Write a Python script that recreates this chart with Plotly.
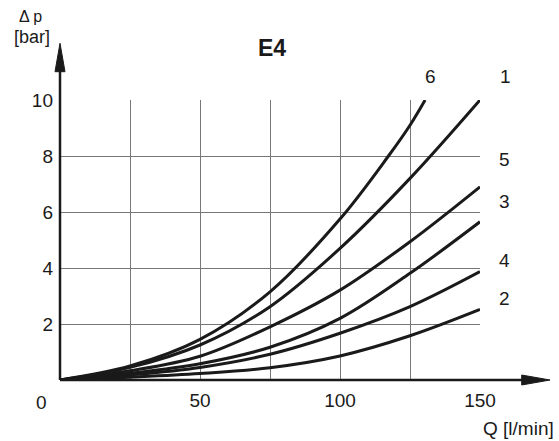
import plotly.graph_objects as go

# ---- data ----
q_common = [0, 25, 50, 75, 100, 125, 150]
q_curve6 = [0, 25, 50, 75, 100, 117.3, 125, 130.4]

dp_curve6 = [0, 0.50, 1.45, 3.15, 5.75, 8.0, 9.1, 10.0]
dp_curve1 = [0, 0.45, 1.25, 2.62, 4.70, 7.20, 10.0]
dp_curve5 = [0, 0.33, 0.85, 1.90, 3.21, 4.94, 6.90]
dp_curve3 = [0, 0.24, 0.58, 1.17, 2.20, 3.81, 5.65]
dp_curve4 = [0, 0.18, 0.45, 0.92, 1.67, 2.62, 3.87]
dp_curve2 = [0, 0.10, 0.23, 0.44, 0.86, 1.58, 2.52]

x_tick_vals = [25, 50, 75, 100, 125, 150]
x_tick_text = ["", "50", "", "100", "", "150"]
y_tick_vals = [0, 2, 4, 6, 8, 10]
y_tick_text = ["", "2", "4", "6", "8", "10"]

curve_names = ["6", "1", "5", "3", "4", "2"]

W, H = 559, 441
L, R, T, B = 60, 480, 100, 380


def px(x):
    return (x - L) / (R - L)


def py(y):
    return (B - y) / (B - T)


FONT = "Liberation Sans, Arial, sans-serif"
FS = 19

fig = go.Figure()
series = [
    (q_curve6, dp_curve6),
    (q_common, dp_curve1),
    (q_common, dp_curve5),
    (q_common, dp_curve3),
    (q_common, dp_curve4),
    (q_common, dp_curve2),
]
for name, (xs, ys) in zip(curve_names, series):
    fig.add_trace(go.Scatter(
        x=xs, y=ys, mode="lines", name=name,
        line=dict(color="#1a1a1a", width=3, shape="spline", smoothing=1.0),
        showlegend=False, hoverinfo="skip", cliponaxis=False,
    ))

grid_color = "#777777"
fig.update_xaxes(
    range=[0, 150], tickvals=x_tick_vals, ticktext=x_tick_text,
    showgrid=True, gridcolor=grid_color, gridwidth=1,
    zeroline=False, showline=False, ticks="",
    tickfont=dict(family=FONT, size=FS, color="#1a1a1a"),
    ticklabelstandoff=7,
)
fig.update_yaxes(
    range=[0, 10], tickvals=y_tick_vals, ticktext=y_tick_text,
    showgrid=True, gridcolor=grid_color, gridwidth=1,
    zeroline=False, showline=False, ticks="",
    tickfont=dict(family=FONT, size=FS, color="#1a1a1a"),
    ticklabelstandoff=6,
)

shapes = [
    # x axis line + arrow
    dict(type="line", xref="paper", yref="paper", x0=px(L), y0=py(B), x1=px(525), y1=py(B),
         line=dict(color="#1a1a1a", width=2.5)),
    dict(type="path", xref="paper", yref="paper",
         path=f"M {px(521.7)} {py(B-5)} L {px(550)} {py(B)} L {px(521.7)} {py(B+5)} Z",
         fillcolor="#1a1a1a", line=dict(color="#1a1a1a", width=1)),
    # y axis line + arrow
    dict(type="line", xref="paper", yref="paper", x0=px(L), y0=py(B), x1=px(L), y1=py(68),
         line=dict(color="#1a1a1a", width=2.5)),
    dict(type="path", xref="paper", yref="paper",
         path=f"M {px(L-5)} {py(71.7)} L {px(L)} {py(43.3)} L {px(L+5)} {py(71.7)} Z",
         fillcolor="#1a1a1a", line=dict(color="#1a1a1a", width=1)),
]

ann_font = dict(family=FONT, size=FS, color="#1a1a1a")
label_pos = {"6": (430, 76.7), "1": (505, 76.7), "5": (504.3, 159),
             "3": (504.3, 201.7), "4": (504.3, 260), "2": (504.3, 298.3)}
annotations = [
    dict(text=n, x=px(label_pos[n][0]), y=py(label_pos[n][1]), xref="paper", yref="paper",
         showarrow=False, font=ann_font, xanchor="center", yanchor="middle")
    for n in curve_names
]
annotations += [
    dict(text="0", x=px(41.7), y=py(402), xref="paper", yref="paper", showarrow=False,
         font=ann_font, xanchor="center", yanchor="middle"),
    dict(text="Q [l/min]", x=px(556), y=py(428), xref="paper", yref="paper", showarrow=False,
         font=ann_font, xanchor="right", yanchor="middle"),
    dict(text="Δ p", x=px(31), y=py(17), xref="paper", yref="paper", showarrow=False,
         font=dict(family=FONT, size=16, color="#1a1a1a"), xanchor="center", yanchor="middle"),
    dict(text="[bar]", x=px(32), y=py(37), xref="paper", yref="paper", showarrow=False,
         font=dict(family=FONT, size=18, color="#1a1a1a"), xanchor="center", yanchor="middle"),
    dict(text="<b>E4</b>", x=px(271.7), y=py(48), xref="paper", yref="paper", showarrow=False,
         font=dict(family=FONT, size=23, color="#1a1a1a"), xanchor="center", yanchor="middle"),
]

fig.update_layout(
    width=W, height=H,
    margin=dict(l=L, r=W - R, t=T, b=H - B, pad=0),
    paper_bgcolor="white", plot_bgcolor="white",
    shapes=shapes, annotations=annotations,
    showlegend=False,
)

fig.write_html(
    "out.html",
    config={"displayModeBar": False},
    post_script="document.body.style.margin='0';document.body.style.padding='0';"
                "document.body.style.overflow='hidden';",
)
